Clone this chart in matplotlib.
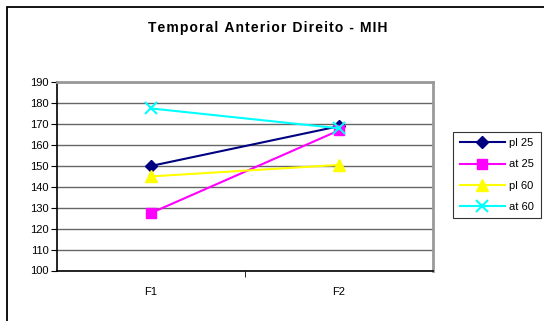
import matplotlib.pyplot as plt
from matplotlib.patches import Rectangle

categorias = ["F1", "F2"]
pl25 = [150, 169]
at25 = [127.5, 167]
pl60 = [145, 150.5]
at60 = [177.5, 168]

titulo = "Temporal Anterior Direito - MIH"

fig = plt.figure(figsize=(5.44, 3.21), dpi=100)
plt.rcParams['font.family'] = ['Liberation Sans', 'DejaVu Sans']

# moldura do grafico
fig.patches.append(Rectangle((7 / 544, -0.1), 1.2, 1 - 7 / 321 + 0.1, transform=fig.transFigure,
                             fill=False, edgecolor='black', linewidth=1.3))

ax = fig.add_axes([57 / 544, (321 - 270.5) / 321, (433 - 57) / 544, (270.5 - 82.3) / 321])

x = range(len(categorias))
ax.plot(x, pl25, color='#000080', marker='D', markersize=6, linewidth=1.5, label='pl 25')
ax.plot(x, at25, color='#FF00FF', marker='s', markersize=7, linewidth=1.5, label='at 25')
ax.plot(x, pl60, color='#FFFF00', marker='^', markersize=9, linewidth=1.5, label='pl 60')
ax.plot(x, at60, color='#00FFFF', marker='x', markersize=8, markeredgewidth=1.5, linewidth=1.5, label='at 60')

ax.set_xlim(-0.5, 1.5)
ax.set_ylim(100, 190)
ax.set_yticks(range(100, 191, 10))
ax.set_xticks(list(x))
ax.set_xticklabels(categorias)
ax.set_xticks([0.5], minor=True)
ax.tick_params(axis='x', which='major', length=0, pad=12, labelsize=8)
ax.tick_params(axis='x', which='minor', length=4, direction='out', color='black')
ax.tick_params(axis='y', length=4, direction='out', labelsize=8, pad=2)

ax.grid(axis='y', color='#666666', linewidth=1)
ax.set_axisbelow(True)
for s in ['top', 'right']:
    ax.spines[s].set_color('#999999')
    ax.spines[s].set_linewidth(2)
ax.spines['left'].set_linewidth(1.2)
ax.spines['bottom'].set_linewidth(1.2)

# titulo com letras espacadas
fig.text(268 / 544, 1 - 28 / 321, "\u200a".join(titulo), ha='center', va='center',
         fontsize=10, fontweight='bold')

leg = fig.legend(loc='center', bbox_to_anchor=(497 / 544, 1 - 175 / 321), fontsize=8,
                 frameon=True, fancybox=False, edgecolor='black', handlelength=4.0,
                 labelspacing=1.0, borderpad=0.6, handletextpad=0.4)
leg.get_frame().set_linewidth(0.8)

fig.savefig("out.png", dpi=100)
